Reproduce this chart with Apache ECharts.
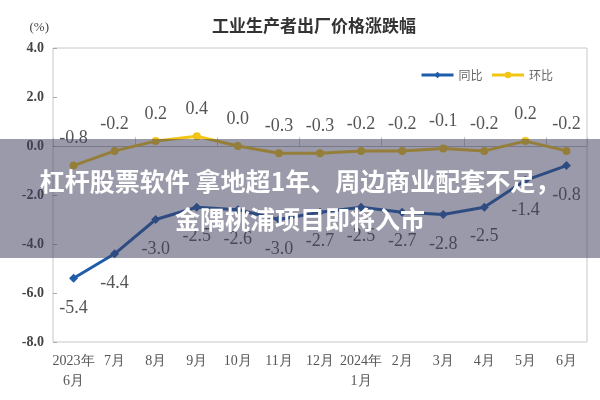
<!DOCTYPE html>
<html><head><meta charset="utf-8">
<script src="https://cdn.jsdelivr.net/npm/echarts@6/dist/echarts.min.js"></script>
<style>html,body{margin:0;padding:0;background:#fff}#c{width:600px;height:400px}</style>
</head><body><div id="c"></div>
<script>
const categories = ['2023年\n6月','7月','8月','9月','10月','11月','12月','2024年\n1月','2月','3月','4月','5月','6月'];
const yoy = [-5.4,-4.4,-3.0,-2.5,-2.6,-3.0,-2.7,-2.5,-2.7,-2.8,-2.5,-1.4,-0.8];
const mom = [-0.8,-0.2,0.2,0.4,0.0,-0.3,-0.3,-0.2,-0.2,-0.1,-0.2,0.2,-0.2];
const chartTitle = '工业生产者出厂价格涨跌幅';
const overlayLine1 = '杠杆股票软件 拿地超1年、周边商业配套不足，';
const overlayLine2 = '金隅桃浦项目即将入市';

const serif = '"Liberation Serif","DejaVu Serif",serif';
const chart = echarts.init(document.getElementById('c'));
chart.setOption({
  animation: false,
  title: { text: chartTitle, left: 207, top: 12,
    textStyle: { fontFamily: '"Noto Sans CJK SC"', fontSize: 17, fontWeight: 'bold', color: '#333' } },
  legend: { right: 42, top: 64, itemWidth: 32, itemHeight: 8, itemGap: 8,
    textStyle: { fontFamily: '"Noto Sans CJK SC"', fontSize: 12, color: '#666' },
    data: [
      { name: '同比', lineStyle: { width: 3, color: '#1f5ca9' } },
      { name: '环比', lineStyle: { width: 3, color: '#f2c514' } }
    ] },
  grid: { left: 53, right: 13, top: 48, bottom: 58, show: true, borderColor: '#c8c8c8', borderWidth: 1 },
  xAxis: [
    { type: 'category', data: categories, boundaryGap: true,
      axisLine: { onZero: true, lineStyle: { color: '#bbb', width: 1 } },
      axisTick: { show: true, inside: true, length: 9, lineStyle: { color: '#c8c8c8' } },
      axisLabel: { show: false } },
    { type: 'category', data: categories, position: 'bottom', boundaryGap: true,
      axisLine: { show: false }, axisTick: { show: false },
      axisLabel: { interval: 0, margin: 9, fontFamily: serif, fontSize: 14, color: '#555', lineHeight: 20 } }
  ],
  yAxis: { type: 'value', min: -8, max: 4, interval: 2,
    splitLine: { show: false },
    axisLine: { show: false },
    axisTick: { show: true, inside: true, length: 4, lineStyle: { color: '#aaa' } },
    axisLabel: { margin: 9, fontFamily: serif, fontSize: 14, fontWeight: 'bold', color: '#444',
      formatter: v => v.toFixed(1) },
    name: '(%)', nameLocation: 'end', nameGap: 14,
    nameTextStyle: { fontFamily: serif, fontSize: 13, color: '#444', align: 'right', padding: [0, 4, 0, 0] } },
  series: [
    { name: '同比', type: 'line', data: yoy, xAxisIndex: 0,
      symbol: 'diamond', symbolSize: 9, showAllSymbol: true,
      lineStyle: { color: '#1f5ca9', width: 3 }, itemStyle: { color: '#1f5ca9' },
      label: { show: true, position: 'bottom', distance: 16, fontFamily: serif, fontSize: 18, color: '#555',
        formatter: p => p.value.toFixed(1) } },
    { name: '环比', type: 'line', data: mom, xAxisIndex: 0,
      symbol: 'circle', symbolSize: 8, showAllSymbol: true,
      lineStyle: { color: '#f2c514', width: 3 }, itemStyle: { color: '#f2c514' },
      label: { show: true, position: 'top', distance: 14, fontFamily: serif, fontSize: 18, color: '#555',
        formatter: p => p.value.toFixed(1) } }
  ],
  graphic: [
    { type: 'rect', z: 100, shape: { x: 0, y: 139, width: 600, height: 119 },
      style: { fill: 'rgba(62,62,92,0.52)' } },
    { type: 'text', z: 101, x: 300, y: 181,
      style: { text: overlayLine1, fill: '#fff', font: 'bold 25px "Noto Sans CJK SC"', align: 'center', verticalAlign: 'middle' } },
    { type: 'text', z: 101, x: 300, y: 219,
      style: { text: overlayLine2, fill: '#fff', font: 'bold 25px "Noto Sans CJK SC"', align: 'center', verticalAlign: 'middle' } }
  ]
});
</script></body></html>
